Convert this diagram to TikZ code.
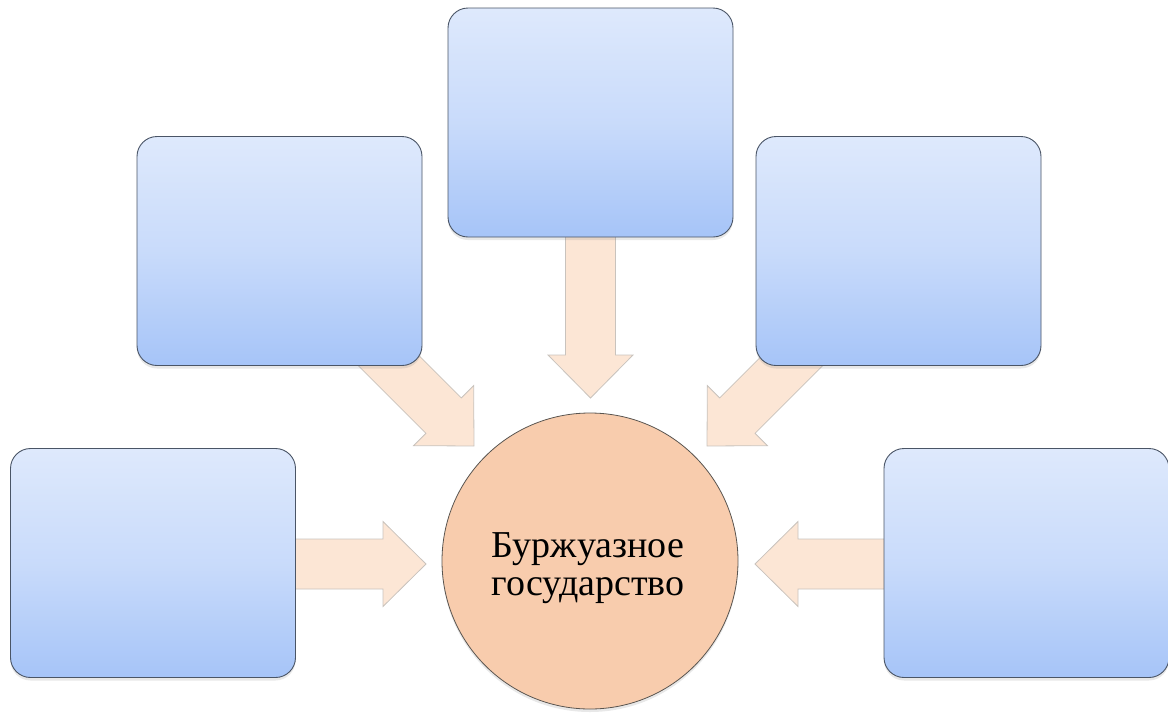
\documentclass[tikz,border=0pt]{standalone}
\usepackage{fontspec}
\setmainfont{Liberation Serif}
\usetikzlibrary{calc,shadows}
\pgfdeclarelayer{bg}
\pgfsetlayers{bg,main}
\definecolor{boxtop}{HTML}{DEE9FC}
\definecolor{boxbot}{HTML}{A6C4F8}
\definecolor{boxline}{HTML}{4A5566}
\definecolor{arrfill}{HTML}{FCE6D5}
\definecolor{arrline}{HTML}{C9C3BD}
\definecolor{circfill}{HTML}{F8CCAD}
\definecolor{circline}{HTML}{5A5550}
\tikzset{
  bluebox/.style={rectangle, rounded corners=20pt, minimum width=285pt, minimum height=229pt,
    draw=boxline, line width=0.9pt, top color=boxtop, bottom color=boxbot, middle color=boxtop!62!boxbot,
    drop shadow={shadow xshift=0pt, shadow yshift=-3pt, opacity=0.18}},
  hub/.style={circle, minimum size=296pt, inner sep=0pt, draw=circline, line width=0.8pt, fill=circfill,
    drop shadow={shadow xshift=0pt, shadow yshift=-3pt, opacity=0.18}},
  hubtext/.style={align=center, inner sep=0pt, font=\fontsize{38}{38}\selectfont},
  arrowfill/.style={fill=arrfill, draw=arrline, line width=0.8pt, line join=miter}
}
\newcommand\blockarrow[2]{%
  \coordinate (hb) at ($(#2)!43pt!(#1)$);
  \draw[arrowfill] ($(#1)!25pt!90:(#2)$) -- ($(hb)!25pt!90:(#2)$) -- ($(hb)!42.5pt!90:(#2)$) -- (#2)
    -- ($(hb)!42.5pt!-90:(#2)$) -- ($(hb)!25pt!-90:(#2)$) -- ($(#1)!25pt!-90:(#2)$) -- cycle;}
\begin{document}
\begin{tikzpicture}[x=1pt,y=-1pt]
\useasboundingbox (0,0) rectangle (1168,713);
\node[bluebox] (top) at (590.5,122.5) {};
\node[bluebox] (ul) at (279.5,251) {};
\node[bluebox] (ur) at (898.5,251) {};
\node[bluebox] (ll) at (153,563) {};
\node[bluebox] (lr) at (1026.5,563) {};
\node[hub] (c) at (590,561) {};
\node[hubtext] (ctext) at ($(c.center)+(-2,7)$) {Буржуазное\\государство};
\coordinate (tTop) at (590.5,398);
\coordinate (tUL) at (474,446);
\coordinate (tUR) at (707,446);
\coordinate (tLL) at (426,564);
\coordinate (tLR) at (755,564);
\begin{pgfonlayer}{bg}
\blockarrow{$(top.south)+(0,-15)$}{tTop}
\coordinate (sUL) at (351,323);
\coordinate (sUR) at (830,323);
\coordinate (sLL) at ($(ll.east)+(-15,1)$);
\coordinate (sLR) at ($(lr.west)+(15,1)$);
\blockarrow{sUL}{tUL}
\blockarrow{sUR}{tUR}
\blockarrow{sLL}{tLL}
\blockarrow{sLR}{tLR}
\end{pgfonlayer}
\end{tikzpicture}
\end{document}
